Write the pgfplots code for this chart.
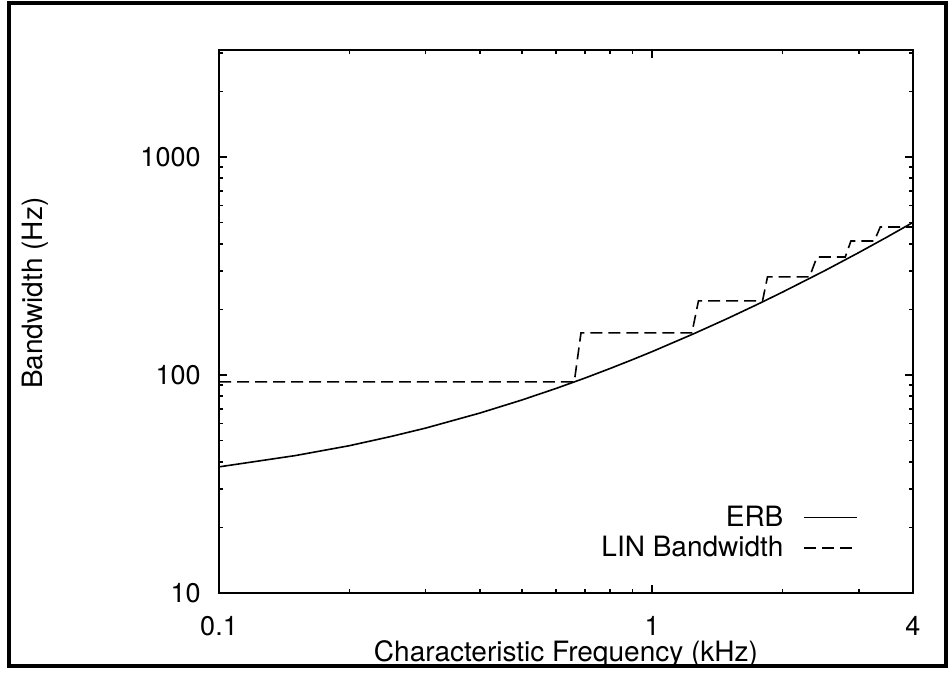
\documentclass[border=0pt]{standalone}
\usepackage{fontspec}
\setmainfont{TeX Gyre Heros}
\usepackage{pgfplots}
\pgfplotsset{compat=1.18}

\pgfplotstableread{
f erb
0.10 37.9
0.15 42.7
0.20 47.4
0.25 52.3
0.30 57.1
0.40 66.9
0.50 76.8
0.60 86.8
0.70 96.9
0.80 107.2
0.90 117.6
1.00 128.1
1.25 155.0
1.50 182.6
1.75 211.0
2.00 240.2
2.50 300.9
3.00 364.8
3.50 431.7
4.00 501.8
}\erbtable

\pgfplotstableread{
f bw
0.100 93
0.661 93
0.685 156
1.235 156
1.279 219
1.798 219
1.846 282
2.308 282
2.401 348
2.791 348
2.876 412
3.256 412
3.362 478
4.000 478
}\lintable

\begin{document}
\begin{tikzpicture}
\begin{axis}[
  scale only axis, width=347pt, height=271.5pt,
  xmode=log, ymode=log,
  xmin=0.1, xmax=4, ymin=10, ymax=3100,
  xtick={0.1,1,4}, xticklabels={0.1,1,4},
  ytick={10,100,1000}, yticklabels={10,100,1000},
  minor xtick={0.2,0.3,0.4,0.5,0.6,0.7,0.8,0.9,2,3},
  minor ytick={20,30,40,50,60,70,80,90,200,300,400,500,600,700,800,900,2000,3000},
  tick align=inside, major tick length=4pt, minor tick length=2pt,
  axis line style={line width=1.3pt},
  every tick/.style={black, line width=0.8pt},
  /pgf/number format/assume math mode=true,
  tick label style={font=\fontsize{13.5}{15}\selectfont},
  xticklabel style={yshift=-8pt},
  yticklabel style={xshift=-5.7pt},
  xlabel={Characteristic Frequency (kHz)},
  ylabel={Bandwidth (Hz)},
  label style={font=\fontsize{14}{16}\selectfont},
  xlabel style={at={(axis description cs:0.5,-0.112)}, anchor=center},
  ylabel style={at={(axis description cs:-0.265,0.552)}, anchor=center},
  clip=false,
  legend plot pos=right,
  legend cell align=right,
  legend image code/.code={\path (0pt,0pt); \draw[#1] (9pt,0pt) -- (35.5pt,0pt);},
  legend style={draw=none, fill=none, at={(axis description cs:0.93,0.05)}, anchor=south east,
    font=\fontsize{14}{16}\selectfont, nodes={inner sep=1pt}, row sep=1.5pt},
]
\addplot[black, line width=0.8pt] table[x=f, y=erb] {\erbtable};
\addlegendentry{ERB}
\addplot[black, line width=0.8pt, dash pattern=on 6pt off 3pt] table[x=f, y=bw] {\lintable};
\addlegendentry{LIN Bandwidth}
\draw[line width=1.8pt] (rel axis cs:-0.3026,-0.1344) rectangle (rel axis cs:1.0476,1.0866);
\path (rel axis cs:-0.3156,-0.1400) rectangle (rel axis cs:1.0519,1.0921);
\end{axis}
\end{tikzpicture}
\end{document}
